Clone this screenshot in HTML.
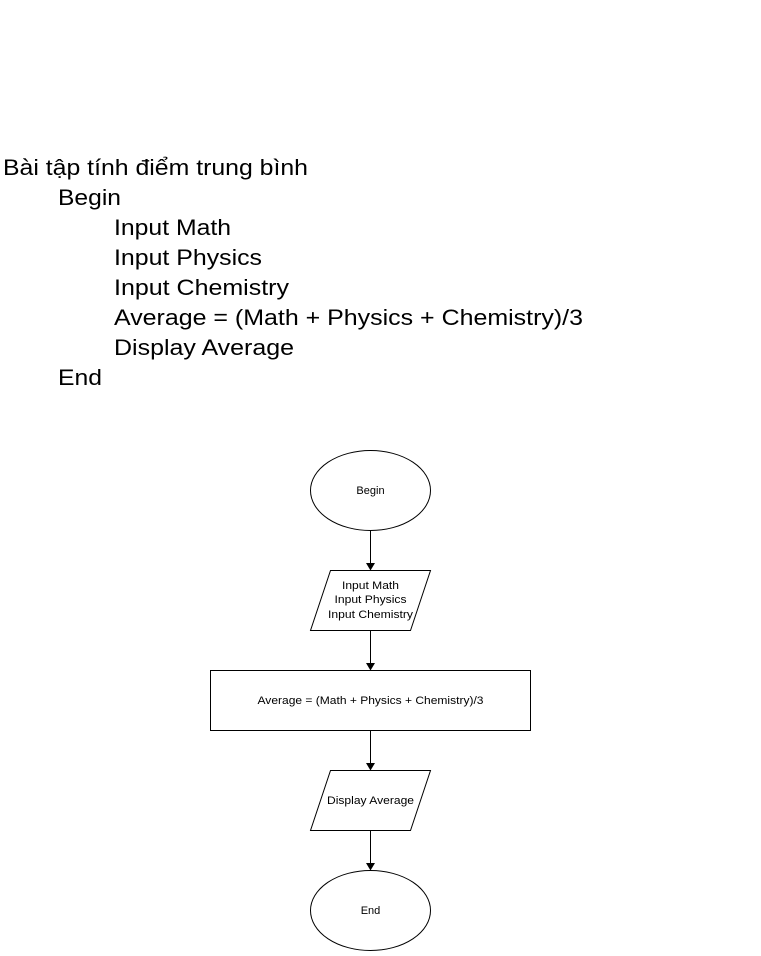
<!DOCTYPE html>
<html><head><meta charset="utf-8"><style>
body{margin:0;background:#fff;width:761px;height:951px;overflow:hidden;font-family:"Liberation Sans",Arial,sans-serif}
svg text{font-family:"Liberation Sans",Arial,sans-serif}
</style></head><body>
<svg width="761" height="951" xmlns="http://www.w3.org/2000/svg">
<g font-size="22" fill="#000">
<text x="3" y="175" textLength="305" lengthAdjust="spacingAndGlyphs">Bài tập tính điểm trung bình</text>
<text x="58" y="205" textLength="63" lengthAdjust="spacingAndGlyphs">Begin</text>
<text x="114" y="235" textLength="117" lengthAdjust="spacingAndGlyphs">Input Math</text>
<text x="114" y="265" textLength="148" lengthAdjust="spacingAndGlyphs">Input Physics</text>
<text x="114" y="295" textLength="175" lengthAdjust="spacingAndGlyphs">Input Chemistry</text>
<text x="114" y="325" textLength="469" lengthAdjust="spacingAndGlyphs">Average = (Math + Physics + Chemistry)/3</text>
<text x="114" y="355" textLength="180" lengthAdjust="spacingAndGlyphs">Display Average</text>
<text x="58" y="385" textLength="44" lengthAdjust="spacingAndGlyphs">End</text>
</g>
<g fill="#fff" stroke="#000" stroke-width="1">
<ellipse cx="370.5" cy="490.5" rx="60" ry="40"/>
<polygon points="330.5,570.5 430.5,570.5 410.5,630.5 310.5,630.5"/>
<rect x="210.5" y="670.5" width="320" height="60"/>
<polygon points="330.5,770.5 430.5,770.5 410.5,830.5 310.5,830.5"/>
<ellipse cx="370.5" cy="910.5" rx="60" ry="40"/>
<path d="M370.5 530.5V563 M370.5 630.5V663 M370.5 730.5V763 M370.5 830.5V863" fill="none"/>
</g>
<g fill="#000">
<polygon points="366,563 375,563 370.5,570.5"/>
<polygon points="366,663 375,663 370.5,670.5"/>
<polygon points="366,763 375,763 370.5,770.5"/>
<polygon points="366,863 375,863 370.5,870.5"/>
</g>
<g font-size="11" text-anchor="middle" fill="#000">
<text x="370.5" y="494">Begin</text>
<text x="370.5" y="589" textLength="57" lengthAdjust="spacingAndGlyphs">Input Math</text>
<text x="370.5" y="603" textLength="72" lengthAdjust="spacingAndGlyphs">Input Physics</text>
<text x="370.5" y="618" textLength="85" lengthAdjust="spacingAndGlyphs">Input Chemistry</text>
<text x="370.5" y="704" textLength="226" lengthAdjust="spacingAndGlyphs">Average = (Math + Physics + Chemistry)/3</text>
<text x="370.5" y="804" textLength="87" lengthAdjust="spacingAndGlyphs">Display Average</text>
<text x="370.5" y="914">End</text>
</g>
</svg>
</body></html>
